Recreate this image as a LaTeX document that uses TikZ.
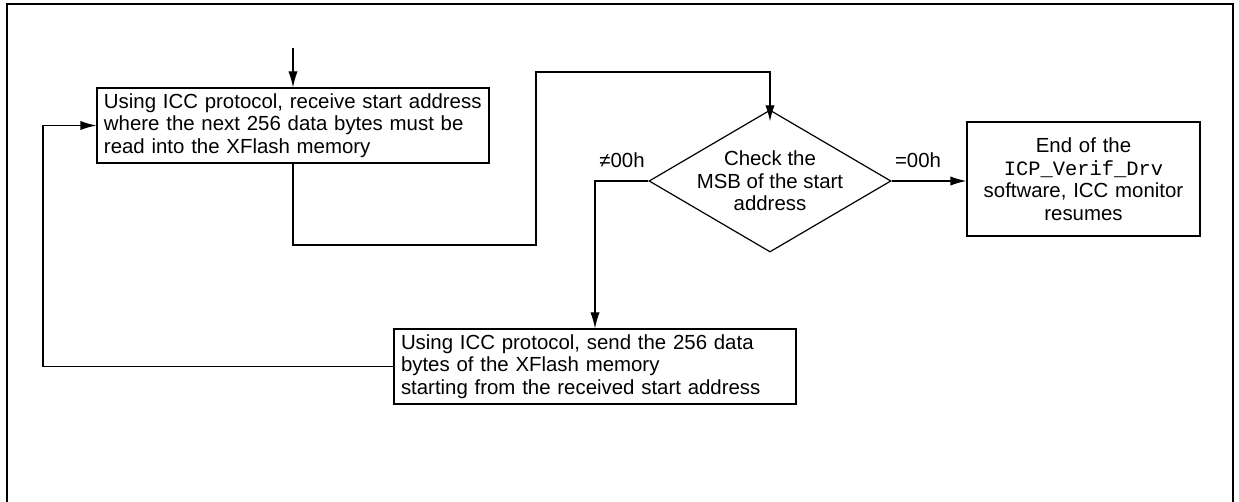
\documentclass[tikz,border=0pt]{standalone}
\usepackage{fontspec}
\setmainfont{Liberation Sans}
\setmonofont{Liberation Mono}
\usetikzlibrary{shapes.geometric,arrows.meta}

\begin{document}
\begin{tikzpicture}[x=0.5pt,y=-0.5pt,
  font=\fontsize{10.2}{11.25}\selectfont,
  box/.style={draw, line width=0.6pt, inner xsep=3.5pt, inner ysep=0pt},
  decision/.style={draw, diamond, line width=0.6pt, inner sep=-2pt, aspect=1.68,
    minimum width=121pt, minimum height=71pt, align=center},
  flow/.style={draw, line width=0.6pt, -{Latex[length=8pt,width=4.6pt]}}]
\useasboundingbox (0,0) rectangle (1239,502);
\path[draw, line width=0.9pt] (7,502) -- (7,4) -- (1233,4) -- (1233,502);

\node[box, text width=189pt, minimum height=37.5pt, align=left] (rcv) at (293,125.5)
  {Using ICC protocol, receive start address\\where the next 256 data bytes must be\\read into the XFlash memory};
\node[decision] (dec) at (770,181) {Check the\\MSB of the start\\address};
\node[box, text width=109.5pt, minimum height=57pt, align=center] (done) at (1083.5,179)
  {End of the\\\texttt{ICP\_Verif\_Drv}\\software, ICC monitor\\resumes};
\node[box, text width=194pt, minimum height=37.5pt, align=left] (send) at (595,366.5)
  {Using ICC protocol, send the 256 data\\bytes of the XFlash memory\\starting from the received start address};

\node (ne) at (622,160) {≠00h};
\node (eq) at (918,160) {=00h};

\coordinate (entry) at (293,48);
\coordinate (back) at (43,125.5);
\coordinate (low) at (536,245);
\coordinate (high) at (536,72);

\path[flow] (entry) -- (rcv);
\path[flow, shorten >=-6pt] (rcv.south) |- (low) -- (high) -| (dec.north);
\path[flow] (dec.west) -| (send.north);
\path[flow] (dec.east) -- (dec.east -| done.west);
\path[flow] (send.west) -| (back) -- (back -| rcv.west);
\end{tikzpicture}
\end{document}
